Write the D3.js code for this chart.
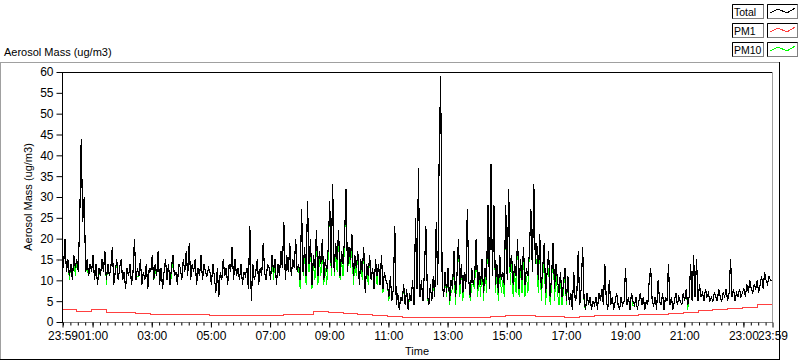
<!DOCTYPE html>
<html>
<head>
<meta charset="utf-8">
<script src="https://cdn.jsdelivr.net/npm/d3@7"></script>
<style>
  html, body { margin: 0; padding: 0; background: #fff; }
  svg { display: block; font-family: "Liberation Sans", Arial, sans-serif; }
</style>
</head>
<body>
<svg id="chart" width="800" height="361"></svg>
<script>
// ---------------- DATA ----------------
// Samples every 3 minutes from 23:59 to 23:59 next day (481 values, 20 per hour)
const totalValues = [
  14,13,20,12,15,11,14,10,16,13,15,12,25,44,24,30,12,15,11,14,
  12,16,10,14,9,13,11,15,12,17,10,14,11,13,18,9,12,15,10,13,
  15,10,12,8,13,11,14,9,12,20,10,13,11,15,9,12,10,14,8,13,
  12,16,10,14,11,17,9,13,8,12,15,10,14,9,13,16,11,12,9,14,
  13,10,15,12,17,11,19,10,14,12,15,9,13,11,16,10,14,12,11,13,
  12,9,14,11,7,13,6,12,10,15,11,13,9,14,12,18,10,15,11,13,
  10,14,9,12,11,13,8,23,5,14,10,12,15,9,13,11,19,12,10,14,
  13,10,16,12,15,9,14,11,17,13,24,10,16,12,19,11,15,13,20,12,
  14,10,27,12,18,11,29,14,20,9,16,13,22,11,17,14,20,10,15,12,
  18,29,13,33,12,19,15,22,11,17,14,20,32,12,18,15,21,11,16,13,
  17,9,15,12,18,7,14,11,16,10,13,8,15,11,14,9,16,8,12,10,
  9,6,11,5,8,23,4,7,3,6,5,9,4,8,3,7,5,10,4,25,
  8,37,6,10,5,12,23,7,4,9,5,11,6,24,9,40,59,10,6,12,
  7,13,5,10,8,17,6,11,20,9,14,7,12,8,27,10,6,13,9,11,
  20,8,12,9,15,7,13,10,28,8,38,11,28,9,14,7,16,10,12,9,
  28,10,32,12,16,9,14,11,20,8,15,10,18,9,13,11,17,27,12,33,
  14,19,10,21,8,13,19,7,12,17,6,11,19,8,14,10,7,12,6,9,
  13,5,11,4,7,3,12,5,6,17,4,8,18,5,3,7,4,6,3,5,
  4,6,3,7,5,8,4,14,5,3,10,4,6,3,5,7,4,3,6,4,
  5,13,4,6,3,7,5,4,6,3,5,7,4,6,3,5,4,10,13,5,
  4,6,3,10,5,4,7,3,6,5,14,4,6,3,5,7,4,6,5,4,
  7,5,8,4,6,14,5,16,6,15,5,9,6,7,5,8,6,7,5,6,
  5,7,6,5,8,6,5,7,6,8,5,7,15,6,8,5,7,6,8,6,
  7,8,6,9,7,10,8,7,9,8,10,7,9,11,8,12,10,9,11,10,
  10
];
const pm10Values = [
  14,13,20,12,15,10,14,10,16,11,15,12,25,44,24,30,12,13,11,14,
  12,16,10,14,9,12,11,15,12,17,9,14,11,13,18,9,12,14,10,13,
  15,10,12,8,13,11,14,9,12,20,10,11,11,15,9,12,10,14,8,13,
  12,16,10,12,11,17,9,13,8,12,15,10,14,9,11,16,11,12,9,14,
  13,10,15,12,17,11,19,10,14,12,15,9,13,11,16,10,14,12,11,13,
  12,9,14,11,7,13,6,12,10,15,11,13,9,14,12,18,10,15,11,13,
  10,14,9,12,11,13,8,23,5,14,10,12,15,9,13,11,19,12,10,14,
  13,10,16,10,15,9,14,11,17,13,24,10,16,12,19,11,15,13,20,12,
  13,8,27,11,16,9,29,12,18,8,14,10,20,9,15,11,18,9,13,9,
  16,29,11,33,11,17,12,20,10,15,11,18,32,12,16,13,19,9,14,11,
  17,9,15,10,18,7,14,9,16,10,13,8,15,9,14,9,16,7,12,10,
  9,5,11,5,8,23,4,7,3,6,5,8,4,8,3,6,5,10,4,25,
  8,37,6,10,5,12,23,6,4,9,5,9,6,24,9,40,59,10,6,12,
  6,13,4,7,8,14,4,11,20,6,14,5,12,8,27,10,5,9,9,8,
  20,6,12,6,15,5,13,7,28,8,38,11,28,7,12,5,14,7,10,6,
  28,10,32,9,14,6,12,7,20,6,13,7,16,6,11,7,17,27,12,33,
  14,15,7,21,5,11,15,4,12,13,4,9,19,5,12,7,4,10,4,7,
  13,4,11,4,7,3,12,5,6,17,4,8,18,4,3,7,4,6,3,5,
  4,6,3,7,5,8,4,14,5,3,10,4,6,3,5,7,4,3,6,4,
  5,13,4,6,3,7,4,4,6,3,5,7,4,6,3,5,4,10,13,5,
  4,6,3,10,5,4,7,3,6,5,14,4,6,3,5,7,4,6,5,4,
  7,5,8,3,6,14,5,16,6,15,5,9,6,7,5,8,6,7,5,6,
  5,7,6,5,8,6,5,7,6,8,5,7,15,6,8,5,7,6,8,6,
  7,8,6,9,7,10,8,7,9,8,10,7,9,11,8,12,10,9,11,10,
  10
];
// PM1 every 30 minutes from 23:59 (49 values)
const pm1Values = [
  3.0,2.6,3.1,2.4,2.3,2.0,1.9,1.8,1.7,1.7,1.6,1.6,
  1.5,1.5,1.6,1.7,1.9,2.5,2.2,2.0,1.9,1.6,1.3,1.0,
  1.0,1.0,1.0,1.1,1.1,1.3,1.5,1.6,1.4,1.3,1.2,1.3,
  1.5,1.6,1.6,1.7,1.9,2.0,2.2,2.7,3.0,3.2,3.6,4.1,
  4.8
];
const yTicks = [0,5,10,15,20,25,30,35,40,45,50,55,60];
const xTickLabels = ["23:59","01:00","03:00","05:00","07:00","09:00","11:00",
                     "13:00","15:00","17:00","19:00","21:00","23:00","23:59"];
const seriesNames = ["Total","PM1","PM10"];
const seriesColors = ["#000000","#ff4040","#00ff00"];

// ---------------- LAYOUT ----------------
const svg = d3.select("#chart");
const plot = {left: 62, top: 72, right: 772, bottom: 322};
const start = new Date(2000, 0, 1, 23, 59);
const end = new Date(2000, 0, 2, 23, 59);
const x = d3.scaleTime().domain([start, end]).range([plot.left, plot.right]);
const y = d3.scaleLinear().domain([0, 60]).range([plot.bottom, plot.top]);

const mk = (vals, stepMin) => vals.map((v, i) => ({t: d3.timeMinute.offset(start, i * stepMin), v}));
const totalData = mk(totalValues, 3);
const pm10Data = mk(pm10Values, 3);
const pm1Data = mk(pm1Values, 30);

// outer panel frame
svg.append("line").attr("x1",0).attr("x2",780).attr("y1",62.5).attr("y2",62.5).attr("stroke","#a0a0a0");
svg.append("line").attr("x1",0.5).attr("x2",0.5).attr("y1",62).attr("y2",360).attr("stroke","#a0a0a0");
svg.append("line").attr("x1",0).attr("x2",780).attr("y1",359.5).attr("y2",359.5).attr("stroke","#000");
svg.append("line").attr("x1",779.5).attr("x2",779.5).attr("y1",62).attr("y2",360).attr("stroke","#000");

// title
svg.append("text").attr("x",4).attr("y",56).attr("font-size",11).attr("fill","#000")
   .text("Aerosol Mass (ug/m3)");

// lines
const line = d3.line().x(d => x(d.t)).y(d => y(d.v));
const g = svg.append("g");
g.append("path").datum(pm10Data).attr("d", line).attr("fill","none")
  .attr("stroke", seriesColors[2]).attr("stroke-width",1).attr("shape-rendering","crispEdges");
g.append("path").datum(totalData).attr("d", line).attr("fill","none")
  .attr("stroke", seriesColors[0]).attr("stroke-width",1.15).attr("shape-rendering","crispEdges");
g.append("path").datum(pm1Data).attr("d", d3.line().x(d => x(d.t)).y(d => y(d.v)).curve(d3.curveStepAfter))
  .attr("fill","none").attr("stroke", seriesColors[1]).attr("stroke-width",1).attr("shape-rendering","crispEdges");

// plot border
svg.append("line").attr("x1",plot.left).attr("x2",plot.right+1).attr("y1",plot.top+0.5).attr("y2",plot.top+0.5).attr("stroke","#000");
svg.append("line").attr("x1",plot.right+0.5).attr("x2",plot.right+0.5).attr("y1",plot.top).attr("y2",plot.bottom+1).attr("stroke","#a0a0a0");
svg.append("line").attr("x1",plot.left).attr("x2",plot.right+1).attr("y1",plot.bottom+0.5).attr("y2",plot.bottom+0.5).attr("stroke","#808080");

// y axis
const yAxis = d3.axisLeft(y).tickValues(yTicks).tickSize(6).tickPadding(3).tickFormat(d3.format("d"));
const yg = svg.append("g").attr("transform",`translate(${plot.left+0.5},0)`).call(yAxis);
yg.select(".domain").attr("stroke","#000").attr("d",`M0,${plot.top}V${plot.bottom+1}`);
yg.selectAll(".tick line").attr("stroke","#000");
yg.selectAll(".tick text").attr("font-size",12).attr("font-family","Liberation Sans, Arial, sans-serif").attr("fill","#000");

// x axis minor ticks
const minor = d3.timeMinute.every(15).range(d3.timeMinute.offset(start,1), end);
const xMinor = d3.axisBottom(x).tickValues(minor).tickSize(3).tickFormat("");
const xm = svg.append("g").attr("transform",`translate(0.5,${plot.bottom+0.5})`).call(xMinor);
xm.select(".domain").remove();
xm.selectAll(".tick line").attr("stroke","#000");

// x axis labelled ticks
const labelTimes = xTickLabels.map((s, i) => {
  if (i === 0) return start;
  if (i === xTickLabels.length - 1) return end;
  const [h, m] = s.split(":").map(Number);
  return new Date(2000, 0, 2, h, m);
});
const xAxis = d3.axisBottom(x).tickValues(labelTimes).tickSize(5).tickPadding(4)
  .tickFormat((d, i) => xTickLabels[i]);
const xg = svg.append("g").attr("transform",`translate(0.5,${plot.bottom+0.5})`).call(xAxis);
xg.select(".domain").remove();
xg.selectAll(".tick line").attr("stroke","#000");
xg.selectAll(".tick text").attr("font-size",12).attr("font-family","Liberation Sans, Arial, sans-serif").attr("fill","#000");

// axis titles
svg.append("text").attr("x", (plot.left+plot.right)/2).attr("y",355).attr("text-anchor","middle")
   .attr("font-size",11).text("Time");
svg.append("text").attr("transform",`translate(32,${(plot.top+plot.bottom)/2}) rotate(-90)`)
   .attr("text-anchor","middle").attr("font-size",11).text("Aerosol Mass (ug/m3)");

// legend
const leg = svg.append("g");
seriesNames.forEach((name, i) => {
  const yy = 4 + i * 19;
  const row = leg.append("g").attr("transform", `translate(0,${yy})`);
  row.append("rect").attr("x",732.5).attr("y",0.5).attr("width",31).attr("height",14)
     .attr("fill","#fff").attr("stroke","#808080");
  row.append("path").attr("d","M732.5,14.5V0.5H763.5").attr("fill","none").attr("stroke","#000");
  row.append("text").attr("x",734).attr("y",12).attr("font-size",10.5).text(name);
  row.append("rect").attr("x",767.5).attr("y",0.5).attr("width",30).attr("height",14)
     .attr("fill","#fff").attr("stroke","#808080");
  row.append("path").attr("d","M767.5,14.5V0.5H797.5").attr("fill","none").attr("stroke","#000");
  row.append("path").attr("d","M770,9 L778,5 L787,9 L795,4").attr("fill","none")
     .attr("stroke", seriesColors[i]).attr("shape-rendering","crispEdges");
});
</script>
</body>
</html>
